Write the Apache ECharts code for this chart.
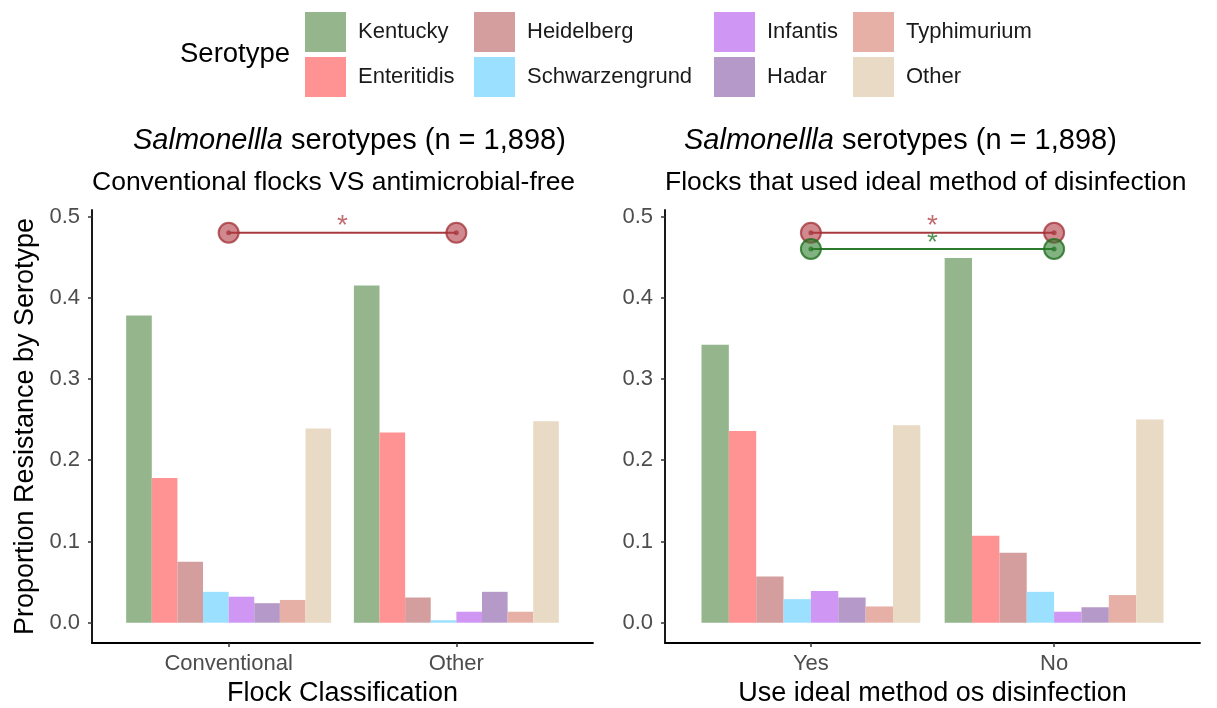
<!DOCTYPE html>
<html>
<head>
<meta charset="utf-8">
<script src="https://cdn.jsdelivr.net/npm/echarts@6/dist/echarts.min.js"></script>
<style>
html,body{margin:0;padding:0;background:#fff;}
#main{width:1217px;height:708px;}
</style>
</head>
<body>
<div id="main"></div>
<script>
// ---- data ----
const serotypes = ['Kentucky','Enteritidis','Heidelberg','Schwarzengrund','Infantis','Hadar','Typhimurium','Other'];
const flockCategories = ['Conventional','Other'];
const disinfCategories = ['Yes','No'];
const flockConventional = [0.378,0.178,0.075,0.038,0.032,0.024,0.028,0.239];
const flockOther        = [0.415,0.234,0.031,0.003,0.0135,0.038,0.0135,0.248];
const disinfYes         = [0.342,0.236,0.057,0.029,0.039,0.031,0.020,0.243];
const disinfNo          = [0.449,0.107,0.086,0.038,0.0135,0.019,0.034,0.250];
const yTicks = [0, 0.1, 0.2, 0.3, 0.4, 0.5];
const yTickLabels = ['0.0','0.1','0.2','0.3','0.4','0.5'];
const sigLeftLevels = [0.48];          // red
const sigRightLevels = [0.48, 0.46];   // red, green

// ---- styles ----
const FONT = 'Liberation Sans';
const colors = ['#95B58D','#FF9393','#D49E9E','#9BE0FF','#D096F3','#B599C8','#E7B0A7','#E9DAC5'];
const sigStyles = [
  {line:'#A8393F', fill:'rgba(176,58,66,0.6)', border:'rgba(160,45,52,0.75)', star:'#B0464C'},
  {line:'#2C7A2C', fill:'rgba(46,125,46,0.6)', border:'rgba(30,110,30,0.8)', star:'#2C7A2C'}
];

const chart = echarts.init(document.getElementById('main'), null, {renderer:'canvas'});

function yAxisCfg(gridIndex, withName){
  return {
    type:'value', gridIndex: gridIndex, min:-0.025, max:0.508,
    axisLine:{show:true, lineStyle:{color:'#000', width:1.8}},
    axisTick:{show:true, length:4, lineStyle:{color:'#333', width:1.5}, customValues: yTicks},
    axisLabel:{color:'#4D4D4D', fontSize:22, fontFamily:FONT, margin:12,
      customValues: yTicks,
      formatter: function(v){ const i = yTicks.findIndex(t => Math.abs(t - v) < 1e-9); return i >= 0 ? yTickLabels[i] : ''; }},
    splitLine:{show:false},
    name: withName ? 'Proportion Resistance by Serotype' : '',
    nameLocation:'middle', nameRotate:90, nameGap:53,
    nameTextStyle:{color:'#000', fontSize:27, fontFamily:FONT}
  };
}
// discrete axis drawn like ggplot: positions 1..n, limits expanded by 0.6
function xAxisCfg(gridIndex, cats, name){
  const pos = cats.map((c, i) => i + 1);
  return {
    type:'value', gridIndex: gridIndex, min:0.4, max:cats.length + 0.6,
    axisLine:{show:true, onZero:false, lineStyle:{color:'#000', width:1.8}},
    axisTick:{show:true, length:4, lineStyle:{color:'#333', width:1.5}, customValues: pos},
    axisLabel:{color:'#4D4D4D', fontSize:22, fontFamily:FONT, margin:10,
      customValues: pos,
      formatter: function(v){ const i = Math.round(v) - 1; return cats[i] !== undefined ? cats[i] : ''; }},
    splitLine:{show:false},
    name: name, nameLocation:'middle', nameGap:37,
    nameTextStyle:{color:'#000', fontSize:27, fontFamily:FONT}
  };
}

const series = [];
function addBars(gridIdx, groupA, groupB){
  serotypes.forEach((s, i) => {
    series.push({
      type:'bar', name:s, xAxisIndex:gridIdx, yAxisIndex:gridIdx,
      data:[[1, groupA[i]], [2, groupB[i]]],
      barGap:'0%', barCategoryGap:'10%',
      itemStyle:{color:colors[i]},
      emphasis:{disabled:true}, animation:false
    });
  });
}
addBars(0, flockConventional, flockOther);
addBars(1, disinfYes, disinfNo);

function addSig(gridIdx, levels){
  levels.forEach((lv, k) => {
    const st = sigStyles[k];
    series.push({
      type:'line', xAxisIndex:gridIdx, yAxisIndex:gridIdx, name:'sig'+gridIdx+k,
      data:[[1, lv],[2, lv]],
      symbol:'circle', symbolSize:20, showSymbol:true,
      lineStyle:{color:st.line, width:2},
      itemStyle:{color:st.fill, borderColor:st.border, borderWidth:2},
      emphasis:{disabled:true}, animation:false, z:5
    });
    series.push({
      type:'scatter', xAxisIndex:gridIdx, yAxisIndex:gridIdx, name:'sigdot'+gridIdx+k,
      data:[[1, lv],[2, lv]],
      symbolSize:5, itemStyle:{color:st.line}, z:6,
      emphasis:{disabled:true}, animation:false
    });
    series.push({
      type:'scatter', xAxisIndex:gridIdx, yAxisIndex:gridIdx, name:'sigstar'+gridIdx+k,
      data:[[(1 + 2) / 2, lv]],
      symbolSize:1, itemStyle:{color:'rgba(0,0,0,0)'}, z:7,
      label:{show:true, position:'inside', formatter:'*', color:st.star, fontSize:28, fontFamily:FONT, offset:[0,-6]},
      emphasis:{disabled:true}, animation:false
    });
  });
}
addSig(0, sigLeftLevels);
addSig(1, sigRightLevels);

const legendCols = [[0,1],[2,3],[4,5],[6,7]];
const legendLeft = [305, 474, 714, 853];
const legends = legendCols.map((col, c) => ({
  orient:'vertical', left:legendLeft[c], top:12, padding:0,
  itemWidth:41, itemHeight:40, itemGap:5, icon:'rect',
  selectedMode:false,
  data: col.map(i => serotypes[i]),
  textStyle:{color:'#1A1A1A', fontSize:22, fontFamily:FONT, padding:[0,0,0,7]}
}));

const titleRich = {i:{fontStyle:'italic', fontSize:29, fontFamily:FONT, color:'#000'}};
chart.setOption({
  backgroundColor:'#fff',
  animation:false,
  textStyle:{fontFamily:FONT},
  title:[
    {text:'Serotype', left:180, top:40, padding:0, textStyle:{fontSize:27.5, fontWeight:'normal', color:'#000', fontFamily:FONT}},
    {text:'{i|Salmonellla} serotypes (n = 1,898)', left:133, top:126, padding:0,
      textStyle:{fontSize:29, fontWeight:'normal', color:'#000', fontFamily:FONT, rich:titleRich}},
    {text:'Conventional flocks VS antimicrobial-free', left:92, top:169, padding:0,
      textStyle:{fontSize:26.5, fontWeight:'normal', color:'#000', fontFamily:FONT}},
    {text:'{i|Salmonellla} serotypes (n = 1,898)', left:684, top:126, padding:0,
      textStyle:{fontSize:29, fontWeight:'normal', color:'#000', fontFamily:FONT, rich:titleRich}},
    {text:'Flocks that used ideal method of disinfection', left:665, top:169, padding:0,
      textStyle:{fontSize:26.5, fontWeight:'normal', color:'#000', fontFamily:FONT}}
  ],
  legend: legends,
  grid:[
    {left:92, right:624, top:210, bottom:65, outerBoundsMode:'none', containLabel:false},
    {left:665, right:17, top:210, bottom:65, outerBoundsMode:'none', containLabel:false}
  ],
  xAxis:[xAxisCfg(0, flockCategories, 'Flock Classification'), xAxisCfg(1, disinfCategories, 'Use ideal method os disinfection')],
  yAxis:[yAxisCfg(0, true), yAxisCfg(1, false)],
  tooltip:{show:false},
  series: series
});
</script>
</body>
</html>
